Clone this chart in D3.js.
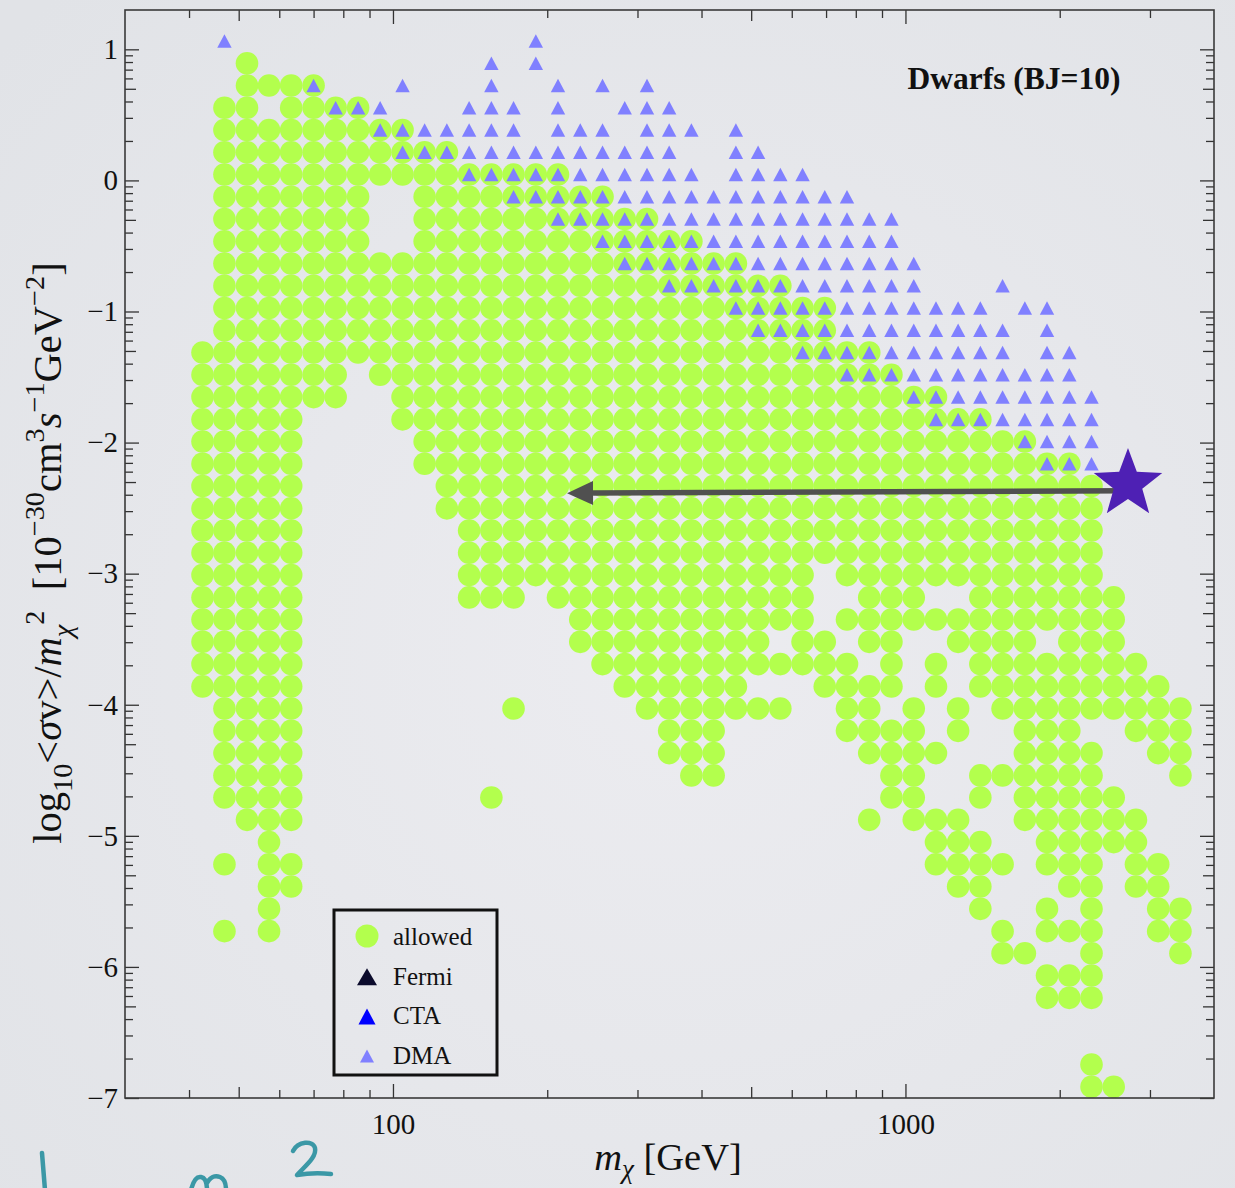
<!DOCTYPE html>
<html>
<head>
<meta charset="utf-8">
<script src="https://cdn.jsdelivr.net/npm/d3@7"></script>
<style>
  html, body { margin: 0; padding: 0; background: #e6e7eb; }
  svg { display: block; }
  text { font-family: "Liberation Serif", "Times New Roman", serif; fill: #111; }
</style>
</head>
<body>
<svg id="chart" width="1235" height="1188"></svg>
<script>
// Dark-matter masses of the scan columns (GeV)
const masses = [42.5, 46.9, 51.9, 57.3, 63.3, 70.0, 77.3, 85.5, 94.4, 104.4, 115.3, 127.4,
  140.8, 155.6, 171.9, 190.0, 209.9, 232.0, 256.4, 283.3, 313.1, 345.9, 382.2, 422.4,
  466.8, 515.8, 570.0, 629.8, 695.9, 769.0, 849.8, 939.0, 1038, 1147, 1267, 1400,
  1547, 1710, 1889, 2088, 2307, 2549, 2817, 3113, 3440];

// log10 <σv>/m² levels of the scan rows, highest first
const levels = [1.063, 0.893, 0.724, 0.554, 0.384, 0.214, 0.045, -0.125, -0.295, -0.465,
  -0.634, -0.804, -0.974, -1.144, -1.313, -1.483, -1.653, -1.823, -1.992, -2.162,
  -2.332, -2.502, -2.671, -2.841, -3.011, -3.181, -3.350, -3.520, -3.690, -3.860,
  -4.029, -4.199, -4.369, -4.539, -4.708, -4.878, -5.048, -5.217, -5.387, -5.557,
  -5.727, -5.896, -6.066, -6.236, -6.406, -6.575, -6.745, -6.915];

// Allowed points: per mass column, runs [first, last] of level indices
const allowedRuns = [
  [[14,29]], [[3,34],[37,37],[40,40]], [[1,35]], [[2,2],[4,40]], [[2,35],[37,38]],
  [[2,16]], [[3,16]], [[3,14]], [[4,6],[10,15]], [[4,6],[10,17]],
  [[5,19]], [[5,21]], [[6,25]], [[6,25],[34,34]], [[6,25],[30,30]],
  [[6,24]], [[6,25]], [[7,27]], [[7,28]], [[8,29]],
  [[8,30]], [[9,32]], [[9,33]], [[10,33]], [[10,30]],
  [[11,28],[30,30]], [[11,26],[28,28],[30,30]], [[12,28]], [[12,23],[27,29]], [[14,24],[26,26],[28,31]],
  [[14,27],[29,32],[35,35]], [[15,29],[31,34]], [[16,26],[30,35]],
  [[16,24],[26,26],[28,29],[32,32],[35,37]], [[17,24],[26,27],[30,31],[35,38]],
  [[17,29],[33,34],[36,39]], [[18,30],[33,33],[37,37],[40,41]], [[18,35],[41,41]],
  [[19,26],[28,37],[39,40],[42,43]], [[19,38],[40,40],[42,43]],
  [[20,30],[32,43],[46,47]], [[25,30],[34,36],[47,47]], [[28,31],[35,38]],
  [[29,32],[37,40]], [[30,33],[39,41]]
];

// Points excluded by DMA: per mass column, runs of level indices
const dmaRuns = [
  [], [[0,0]], [], [], [], [[2,2]], [[3,3]], [[3,3]], [[3,4]], [[2,2],[4,5]],
  [[4,5]], [[4,5]], [[3,6]], [[1,6]], [[3,7]], [[0,1],[5,7]], [[2,8]], [[4,8]],
  [[2,2],[4,9]], [[3,3],[5,10]], [[2,10]], [[3,11]], [[4,4],[6,11]], [[7,11]],
  [[4,12]], [[5,13]], [[6,13]], [[6,14]], [[7,14]], [[7,15]], [[8,15]], [[8,15]],
  [[10,16]], [[12,17]], [[12,17]], [[12,17]], [[11,11],[13,17]], [[12,12],[15,18]],
  [[12,19]], [[14,19]], [[16,19]], [], [], [], []
];

// Benchmark point and the arrow pointing to lower masses
const benchmark = { mass: 2718, value: -2.316 };
const arrow = { from: { mass: 2705, value: -2.367 }, to: { mass: 218.6, value: -2.386 } };

const xMajorTicks = [100, 1000];
const xMediumTicks = [50, 500];
const xMinorTicks = [40, 60, 70, 80, 90, 200, 300, 400, 600, 700, 800, 900, 2000, 3000];
const yMajorTicks = [1, 0, -1, -2, -3, -4, -5, -6, -7];

const legendItems = [
  { label: "allowed", shape: "circle", color: "#b3ff4d" },
  { label: "Fermi", shape: "triangle", color: "#0b0b2c", w: 20, h: 17 },
  { label: "CTA", shape: "triangle", color: "#0000ff", w: 17, h: 16 },
  { label: "DMA", shape: "triangle", color: "#8080ff", w: 14, h: 13 }
];

const colors = { allowed: "#b3ff4d", dma: "#8080ff", star: "#4e20b4", arrow: "#505050" };

const svg = d3.select("#chart");
const W = 1235, H = 1188;
const plot = { left: 125, right: 1214, top: 10, bottom: 1098 };

// background
const defs = svg.append("defs");
const grad = defs.append("radialGradient").attr("id", "bg").attr("cx", "55%").attr("cy", "55%").attr("r", "75%");
grad.append("stop").attr("offset", "0%").attr("stop-color", "#ececf0");
grad.append("stop").attr("offset", "100%").attr("stop-color", "#e1e3e7");
svg.append("rect").attr("width", W).attr("height", H).attr("fill", "url(#bg)");

const x = d3.scaleLog().domain([30, 4000]).range([plot.left, plot.right]);
const y = d3.scaleLinear().domain([-7, 1.3]).range([plot.bottom, plot.top]);

// expand runs into points
function expand(runs) {
  const out = [];
  runs.forEach((colRuns, c) => colRuns.forEach(([a, b]) => {
    for (let i = a; i <= b; i++) out.push({ mass: masses[c], value: levels[i] });
  }));
  return out;
}
const allowedPts = expand(allowedRuns);
const dmaPts = expand(dmaRuns);

const clip = defs.append("clipPath").attr("id", "plotClip");
clip.append("rect").attr("x", plot.left).attr("y", plot.top)
  .attr("width", plot.right - plot.left).attr("height", plot.bottom - plot.top);

const gPts = svg.append("g").attr("clip-path", "url(#plotClip)");
gPts.selectAll("circle.allowed").data(allowedPts).join("circle")
  .attr("class", "allowed")
  .attr("cx", d => x(d.mass)).attr("cy", d => y(d.value))
  .attr("r", 11.3).attr("fill", colors.allowed);

const triPath = (w, h) => `M0,${-h / 2}L${w / 2},${h / 2}L${-w / 2},${h / 2}Z`;
gPts.selectAll("path.dma").data(dmaPts).join("path")
  .attr("class", "dma")
  .attr("d", triPath(14.4, 13.5))
  .attr("transform", d => `translate(${x(d.mass)},${y(d.value)})`)
  .attr("fill", colors.dma);

// arrow + star
const ax1 = x(arrow.from.mass), ay1 = y(arrow.from.value);
const ax2 = x(arrow.to.mass), ay2 = y(arrow.to.value);
const headLen = 26, headHalf = 12;
const ang = Math.atan2(ay2 - ay1, ax2 - ax1);
const bx = ax2 - headLen * Math.cos(ang), by = ay2 - headLen * Math.sin(ang);
svg.append("line").attr("x1", ax1).attr("y1", ay1).attr("x2", bx).attr("y2", by)
  .attr("stroke", colors.arrow).attr("stroke-width", 5.5);
svg.append("path")
  .attr("d", `M${ax2},${ay2}L${bx - headHalf * Math.sin(ang)},${by + headHalf * Math.cos(ang)}L${bx + headHalf * Math.sin(ang)},${by - headHalf * Math.cos(ang)}Z`)
  .attr("fill", colors.arrow);

const starPts = [];
const Ro = 36, Ri = 15;
for (let k = 0; k < 10; k++) {
  const r = k % 2 === 0 ? Ro : Ri;
  const a = -Math.PI / 2 + k * Math.PI / 5;
  starPts.push([r * Math.cos(a), r * Math.sin(a)]);
}
svg.append("path")
  .attr("d", d3.line()(starPts) + "Z")
  .attr("transform", `translate(${x(benchmark.mass)},${y(benchmark.value)})`)
  .attr("fill", colors.star);

// axes: ticks on all four sides, pointing inward
const tickStyle = g => {
  g.select(".domain").remove();
  g.selectAll(".tick line").attr("stroke", "#333").attr("stroke-width", 1.3);
  g.selectAll(".tick text").attr("fill", "#111").attr("font-size", 29)
    .attr("font-family", "'Liberation Serif', 'Times New Roman', serif");
};
const fmtY = d => d < 0 ? "\u2212" + (-d) : String(d);

function xAxes(values, len, labels) {
  svg.append("g").attr("transform", `translate(0,${plot.bottom})`)
    .call(d3.axisBottom(x).tickValues(values).tickSize(-len).tickPadding(15)
      .tickFormat(labels ? d3.format("d") : () => ""))
    .call(tickStyle);
  svg.append("g").attr("transform", `translate(0,${plot.top})`)
    .call(d3.axisTop(x).tickValues(values).tickSize(-len).tickFormat(() => ""))
    .call(tickStyle);
}
xAxes(xMajorTicks, 14, true);
xAxes(xMediumTicks, 11, false);
xAxes(xMinorTicks, 8, false);

const yMedium = [], yMinor = [];
for (let n = -7; n <= 0; n++) {
  for (let k = 2; k <= 9; k++) {
    const v = n + Math.log10(k);
    if (k === 5) yMedium.push(v); else yMinor.push(v);
  }
}
function yAxes(values, len, labels) {
  svg.append("g").attr("transform", `translate(${plot.left},0)`)
    .call(d3.axisLeft(y).tickValues(values).tickSize(-len).tickPadding(7)
      .tickFormat(labels ? fmtY : () => ""))
    .call(tickStyle);
  svg.append("g").attr("transform", `translate(${plot.right},0)`)
    .call(d3.axisRight(y).tickValues(values).tickSize(-len).tickFormat(() => ""))
    .call(tickStyle);
}
yAxes(yMajorTicks, 14, true);
yAxes(yMedium, 11, false);
yAxes(yMinor, 8, false);

// frame
svg.append("rect").attr("x", plot.left).attr("y", plot.top)
  .attr("width", plot.right - plot.left).attr("height", plot.bottom - plot.top)
  .attr("fill", "none").attr("stroke", "#3a3a3a").attr("stroke-width", 1.6);

// title inside the frame
svg.append("text").attr("x", 1014).attr("y", 89).attr("text-anchor", "middle")
  .attr("font-size", 31.5).attr("font-weight", "bold").text("Dwarfs (BJ=10)");

// axis titles with sub/superscripts
function richText(sel, parts, size, subShift = 0.28) {
  let shift = 0;
  parts.forEach(p => {
    const fs = p.sub || p.sup ? size * 0.7 : size;
    const target = p.sub ? size * subShift : p.sup ? -size * 0.42 : 0;
    sel.append("tspan")
      .attr("dy", target - shift)
      .attr("font-size", fs)
      .attr("font-style", p.it ? "italic" : null)
      .text(p.t);
    shift = target;
  });
}
const xTitle = svg.append("text").attr("x", 668).attr("y", 1170).attr("text-anchor", "middle");
richText(xTitle, [{ t: "m", it: true }, { t: "\u03c7", it: true, sub: true }, { t: " [GeV]" }], 38.5, 0.2);

const yTitle = svg.append("text").attr("transform", "translate(61,553) rotate(-90)")
  .attr("text-anchor", "middle");
richText(yTitle, [
  { t: "log" }, { t: "10", sub: true }, { t: "<" }, { t: "\u03c3", it: true }, { t: "v>/" },
  { t: "m", it: true }, { t: "\u03c7", it: true, sub: true }, { t: "2", sup: true },
  { t: "\u2002[10" }, { t: "\u221230", sup: true }, { t: "cm" }, { t: "3", sup: true },
  { t: "s", it: true }, { t: "\u22121", sup: true }, { t: "GeV" }, { t: "\u22122", sup: true },
  { t: "]" }
], 40.5);

// legend
const lg = svg.append("g");
lg.append("rect").attr("x", 334).attr("y", 910).attr("width", 163).attr("height", 165)
  .attr("fill", "none").attr("stroke", "#111").attr("stroke-width", 3);
legendItems.forEach((it, i) => {
  const cy = 936 + i * 39.7;
  if (it.shape === "circle") {
    lg.append("circle").attr("cx", 367).attr("cy", cy).attr("r", 11.5).attr("fill", it.color);
  } else {
    lg.append("path").attr("d", triPath(it.w, it.h))
      .attr("transform", `translate(367,${cy + 1})`).attr("fill", it.color);
  }
  lg.append("text").attr("x", 393).attr("y", cy + 9).attr("font-size", 25).text(it.label);
});

// handwritten note strokes at the lower left
const ink = svg.append("g").attr("fill", "none").attr("stroke", "#3b98a6")
  .attr("stroke-width", 4.5).attr("stroke-linecap", "round").attr("stroke-linejoin", "round");
ink.append("path").attr("d", "M42,1153 C43,1166 44,1178 45,1190");
ink.append("path").attr("d", "M191,1190 C193,1182 196,1176 201,1177 C206,1178 207,1184 207,1190 M207,1183 C210,1177 215,1175 220,1177 C225,1179 226,1185 226,1190");
ink.append("path").attr("d", "M293,1151 C298,1141 313,1140 315,1148 C317,1157 305,1166 297,1175 C309,1173 320,1173 331,1174");
</script>
</body>
</html>
